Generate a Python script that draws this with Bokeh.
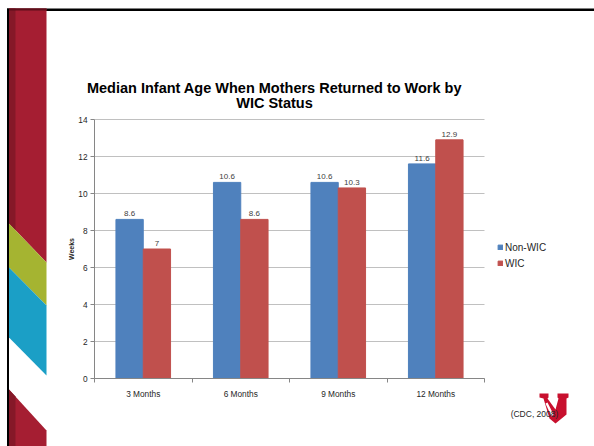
from bokeh.plotting import figure
from bokeh.models import (ColumnDataSource, LabelSet, Label, Legend, LegendItem,
                          FixedTicker, PolyAnnotation, Range1d, LinearAxis, Grid)
from bokeh.core.properties import value
from bokeh.transform import dodge
from bokeh.embed import file_html
from bokeh.resources import INLINE

# ---- data ----
categories = ["3 Months", "6 Months", "9 Months", "12 Months"]
non_wic = [8.6, 10.6, 10.6, 11.6]
wic = [7, 8.6, 10.3, 12.9]
y_ticks = [0, 2, 4, 6, 8, 10, 12, 14]
series_names = ["Non-WIC", "WIC"]
title_lines = ["Median Infant Age When Mothers Returned to Work by", "WIC Status"]
source_note = "(CDC, 2008)"

BLUE = "#4F81BD"
RED = "#C0504D"
FONT = "Liberation Sans"
AXIS_C = "#868686"

W, H = 594, 446
FL, FR, FT, FB = 94, 484, 119, 378   # plot-area edges in canvas pixels
NCAT = len(categories)
YMAX = y_ticks[-1]

# ranges so that the plot area lands on the slide's chart region
ux = (FR - FL) / NCAT
uy = (FB - FT) / YMAX
x_range = Range1d(-FL / ux, (W - FL) / ux)
y_range = Range1d(-(H - FB) / uy, FB / uy)

xs = [i + 0.5 for i in range(NCAT)]
src = ColumnDataSource(dict(
    x=xs, non=non_wic, wic=wic,
    non_lbl=[f"{v:g}" for v in non_wic],
    wic_lbl=[f"{v:g}" for v in wic],
))

p = figure(width=W, height=H, x_range=x_range, y_range=y_range,
           output_backend="svg", toolbar_location=None,
           x_axis_location=None, y_axis_location=None,
           min_border=0, min_border_left=0, min_border_right=0,
           min_border_top=0, min_border_bottom=0)
p.outline_line_color = None
p.background_fill_color = "white"
p.border_fill_color = "white"
p.grid.visible = False

# horizontal grid lines limited to the plot area
ygrid = Grid(dimension=1, ticker=FixedTicker(ticks=y_ticks), bounds=(0, YMAX),
             cross_bounds=(0, NCAT), grid_line_color="#c0c0c0")
p.add_layout(ygrid)

BW = 0.28
r1 = p.vbar(x=dodge("x", -BW / 2, range=p.x_range), top="non", width=BW, source=src,
            fill_color=BLUE, line_color=BLUE)
r2 = p.vbar(x=dodge("x", BW / 2, range=p.x_range), top="wic", width=BW, source=src,
            fill_color=RED, line_color=RED)

for col, lbl, off in (("non", "non_lbl", -BW / 2), ("wic", "wic_lbl", BW / 2)):
    p.add_layout(LabelSet(x=dodge("x", off, range=p.x_range), y=col, text=lbl, source=src,
                          y_offset=3, text_align="center", text_baseline="bottom",
                          text_font=value(FONT), text_font_size=value("8px"),
                          text_color="#404040"))

# axes fixed at the plot-area edges
xaxis = LinearAxis(fixed_location=0, bounds=(0, NCAT),
                   ticker=FixedTicker(ticks=xs, minor_ticks=list(range(NCAT + 1))),
                   major_label_overrides={x: c for x, c in zip(xs, categories)})
xaxis.major_tick_line_color = None
xaxis.major_tick_out = 0
xaxis.minor_tick_out = 4
xaxis.minor_tick_in = 0
xaxis.minor_tick_line_color = AXIS_C
xaxis.major_label_standoff = 6

yaxis = LinearAxis(fixed_location=0, bounds=(0, YMAX), ticker=FixedTicker(ticks=y_ticks))
yaxis.major_tick_out = 4
yaxis.major_tick_in = 0
yaxis.major_tick_line_color = AXIS_C
yaxis.minor_tick_line_color = None
yaxis.major_label_standoff = 3
yaxis.axis_label = "Weeks"
yaxis.axis_label_text_font = FONT
yaxis.axis_label_text_font_size = "7px"
yaxis.axis_label_text_font_style = "bold"
yaxis.axis_label_text_color = "#262626"
yaxis.axis_label_standoff = 0

for ax in (xaxis, yaxis):
    ax.axis_line_color = AXIS_C
    ax.major_label_text_font = FONT
    ax.major_label_text_font_size = "8.3px"
    ax.major_label_text_color = "#262626"
p.add_layout(xaxis, "below")
p.add_layout(yaxis, "left")

# legend
legend = Legend(items=[LegendItem(label=series_names[0], renderers=[r1]),
                       LegendItem(label=series_names[1], renderers=[r2])],
                location=(497, H - 269), orientation="vertical",
                glyph_width=6, glyph_height=6, label_text_font=FONT,
                label_text_font_size="10px", label_text_color="#262626",
                label_standoff=2, spacing=4, padding=0, margin=0,
                border_line_color=None, background_fill_alpha=0, label_height=12)
p.add_layout(legend)

# ---- screen helpers (canvas px from top-left -> screen units) ----
def SX(px):
    return px

def SY(py):
    return H - py

def poly(points, color):
    p.add_layout(PolyAnnotation(xs=[SX(a) for a, b in points], ys=[SY(b) for a, b in points],
                                xs_units="screen", ys_units="screen",
                                fill_color=color, fill_alpha=1, line_color=None))

# slide decoration
BAND_RED = "#A51E32"
BAND_DARK = "#851828"
poly([(6.5, 8), (594, 8), (594, 10.5), (6.5, 10.5)], "black")
poly([(6.5, 8), (8.5, 8), (8.5, 446), (6.5, 446)], "black")
poly([(8.5, 8), (46, 8), (46, 262), (8.5, 223)], BAND_RED)
poly([(8.5, 8), (15, 8), (15, 230), (8.5, 223)], BAND_DARK)
poly([(8.5, 8), (46, 8), (46, 10), (8.5, 10)], "#5E0E1A")
poly([(8.5, 223), (46, 262), (46, 305), (8.5, 267)], "#A5B431")
poly([(8.5, 267), (46, 305), (46, 375), (8.5, 337)], "#1B9FC6")
poly([(8.5, 389), (46, 430), (46, 446), (8.5, 446)], BAND_RED)
poly([(8.5, 389), (15, 396), (15, 446), (8.5, 446)], BAND_DARK)

# logo (shield N)
LOGO = "#C8102E"
poly([(539, 393), (548, 393), (548, 397), (547, 398), (555, 409), (558, 398), (557, 397),
      (557, 393), (568, 393), (568, 397), (566, 398), (566, 414), (555, 423), (549, 418),
      (543, 398), (539, 397)], LOGO)
poly([(545, 403), (547, 402), (553, 414), (551, 416)], "white")

# title
for i, t in enumerate(title_lines):
    p.add_layout(Label(x=SX(274), y=SY(87 + 15 * i), x_units="screen", y_units="screen",
                       text=t, text_align="center", text_baseline="middle",
                       text_font=FONT, text_font_size="14.5px", text_font_style="bold",
                       text_color="black"))

p.add_layout(Label(x=SX(534), y=SY(413), x_units="screen", y_units="screen",
                   text=source_note, text_align="center", text_baseline="middle",
                   text_font=FONT, text_font_size="8.5px", text_color="#262626"))

open("out.html", "w").write(file_html(p, INLINE))
